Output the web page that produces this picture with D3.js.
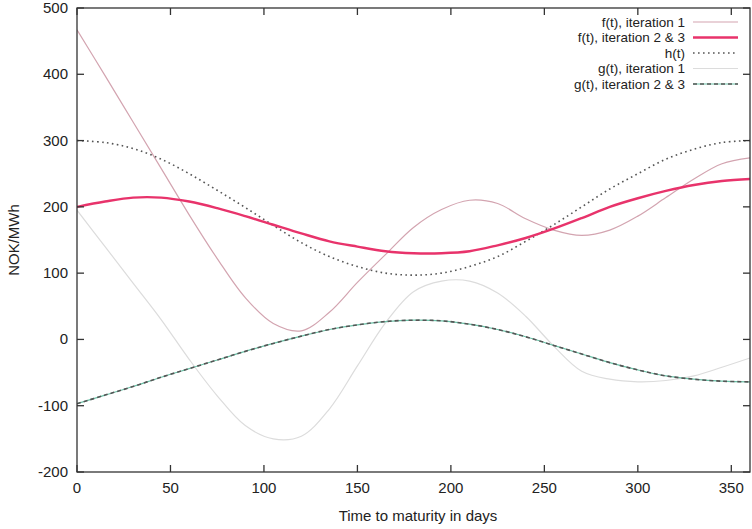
<!DOCTYPE html>
<html><head><meta charset="utf-8">
<script src="https://cdn.jsdelivr.net/npm/d3@7"></script>
<style>body{margin:0;background:#fff}svg{display:block;font-family:"Liberation Sans",Arial,sans-serif}</style>
</head><body><svg id="c" width="752" height="529"></svg>
<script>
const days = [0,15,30,45,60,75,90,105,120,135,150,165,180,195,210,225,240,255,270,285,300,315,330,345,360];
const fIter1 = [467,398,328,258,188,122,63,24,13,41,86,128,169,196,210,205,182,165,157,165,186,214,242,265,274];
const fIter23 = [200,208,214,214,208,198,186,173,160,148,140,133,130,130,133,142,153,167,183,200,213,224,233,239,242];
const hVals = [300,297,288,272,250,225,199,172,146,125,110,100,97,100,110,125,148,173,200,227,250,272,287,297,300];
const gIter1 = [195,140,85,30,-30,-85,-130,-150,-146,-105,-40,25,72,88,88,70,35,-10,-48,-60,-64,-62,-55,-42,-28];
const gIter23 = [-97,-84,-71,-57,-44,-31,-18,-6,5,15,22,27,29,28,23,15,4,-9,-22,-35,-46,-55,-60,-63,-64];
const xTicks = [0,50,100,150,200,250,300,350];
const yTicks = [-200,-100,0,100,200,300,400,500];
const legendLabels = ["f(t), iteration 1","f(t), iteration 2 & 3","h(t)","g(t), iteration 1","g(t), iteration 2 & 3"];

const svg = d3.select("#c");
const L=77,R=750,T=8,B=472;
const x = d3.scaleLinear().domain([0,360]).range([L,R]);
const y = d3.scaleLinear().domain([-200,500]).range([B,T]);
const line = vals => d3.line().x((d,i)=>x(days[i])).y(d=>y(d)).curve(d3.curveCatmullRom.alpha(0.5))(vals);

const plot = svg.append("g");
plot.append("defs").append("clipPath").attr("id","clip").append("rect").attr("x",L).attr("y",T).attr("width",R-L).attr("height",B-T);
const g = plot.append("g").attr("clip-path","url(#clip)");

const styles = [
  s=>s.attr("stroke","#d3a4b0").attr("stroke-width",1.2),
  s=>s.attr("stroke","#e8336b").attr("stroke-width",2.4),
  s=>s.attr("stroke","#555").attr("stroke-width",1.6).attr("stroke-dasharray","1.6,3.4"),
  s=>s.attr("stroke","#dcdcdc").attr("stroke-width",1.2),
  s=>s.attr("stroke","#6cc2a8").attr("stroke-width",1.2)
];
const dashG = s=>s.attr("stroke","#555").attr("stroke-width",1.6).attr("stroke-dasharray","4,3");
g.append("path").attr("d",line(gIter1)).attr("fill","none").call(styles[3]);
g.append("path").attr("d",line(fIter1)).attr("fill","none").call(styles[0]);
g.append("path").attr("d",line(gIter23)).attr("fill","none").call(styles[4]);
g.append("path").attr("d",line(gIter23)).attr("fill","none").call(dashG);
g.append("path").attr("d",line(hVals)).attr("fill","none").call(styles[2]);
g.append("path").attr("d",line(fIter23)).attr("fill","none").call(styles[1]);

const tick = 7;
const ax = svg.append("g").attr("stroke","#333").attr("stroke-width",1.3);
ax.append("rect").attr("x",L).attr("y",T).attr("width",R-L).attr("height",B-T).attr("fill","none");
xTicks.forEach(v=>{
  ax.append("line").attr("x1",x(v)).attr("x2",x(v)).attr("y1",B).attr("y2",B-tick);
  ax.append("line").attr("x1",x(v)).attr("x2",x(v)).attr("y1",T).attr("y2",T+tick);
});
yTicks.forEach(v=>{
  ax.append("line").attr("x1",L).attr("x2",L+tick).attr("y1",y(v)).attr("y2",y(v));
  ax.append("line").attr("x1",R).attr("x2",R-tick).attr("y1",y(v)).attr("y2",y(v));
});
const tx = svg.append("g").attr("font-size",15).attr("fill","#222");
xTicks.forEach(v=>tx.append("text").attr("x",x(v)).attr("y",B+21).attr("text-anchor","middle").text(v));
yTicks.forEach(v=>tx.append("text").attr("x",L-9).attr("y",y(v)+5).attr("text-anchor","end").text(v));
tx.append("text").attr("x",418).attr("y",521).attr("text-anchor","middle").text("Time to maturity in days");
tx.append("text").attr("transform","translate(19,"+((T+B)/2)+") rotate(-90)").attr("text-anchor","middle").text("NOK/MWh");

const lg = svg.append("g").attr("font-size",13.5).attr("fill","#222");
legendLabels.forEach((lab,i)=>{
  const yy = 22 + i*15.5;
  lg.append("text").attr("x",685).attr("y",yy+4.5).attr("text-anchor","end").text(lab);
  lg.append("line").attr("x1",693).attr("x2",738).attr("y1",yy).attr("y2",yy).call(styles[i]);
  if(i===4) lg.append("line").attr("x1",693).attr("x2",738).attr("y1",yy).attr("y2",yy).call(dashG);
});
</script></body></html>
